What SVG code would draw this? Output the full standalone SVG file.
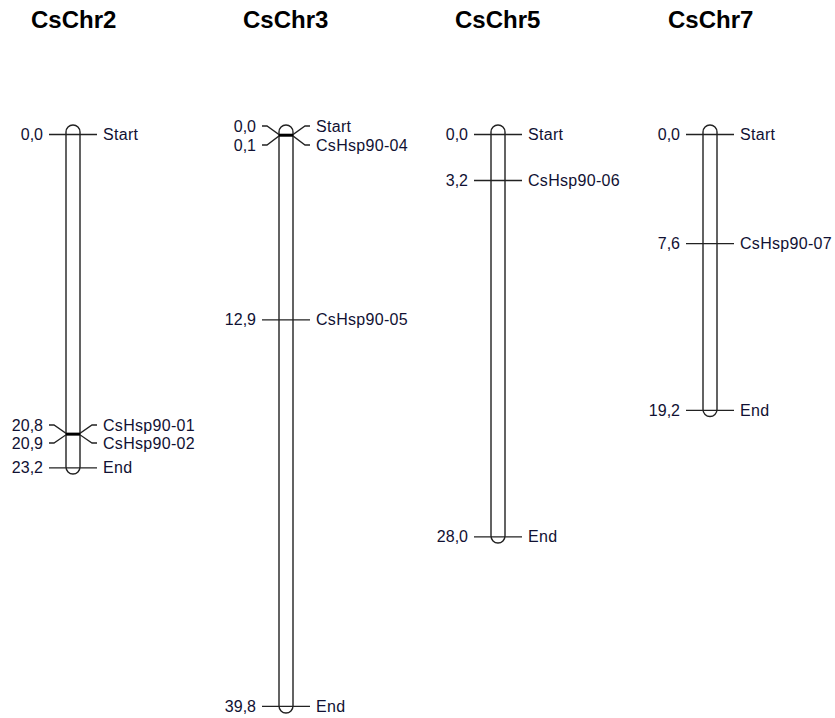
<svg xmlns="http://www.w3.org/2000/svg" width="835" height="718" viewBox="0 0 835 718">
<style>
.t{font-family:"Liberation Sans",Arial,sans-serif;font-size:24px;font-weight:bold;fill:#000}
.n{font-family:"Liberation Sans",Arial,sans-serif;font-size:16px;fill:#111133;text-anchor:end}
.l{font-family:"Liberation Sans",Arial,sans-serif;font-size:16px;fill:#111133;letter-spacing:0.3px}
.b{fill:none;stroke:#222;stroke-width:1.4}
.k{fill:none;stroke:#222;stroke-width:1.3}
.h{stroke:#000;stroke-width:2.6}
</style>
<rect width="835" height="718" fill="#fff"/>
<g id="CsChr2">
<text class="t" x="31" y="28">CsChr2</text>
<path class="b" d="M66,132 L66,467 A7,7 0 0 0 80,467 L80,132 A7,7 0 0 0 66,132 Z"/>
<line class="k" x1="49" y1="134.5" x2="97" y2="134.5"/>
<text class="n" x="43" y="140">0,0</text><text class="l" x="103" y="140">Start</text>
<polyline class="k" points="49,425 54,425 66,433.4 80,433.4 92,425 97,425"/>
<polyline class="k" points="49,443 54,443 66,434.8 80,434.8 92,443 97,443"/>
<line class="h" x1="66" y1="434.1" x2="80" y2="434.1"/>
<text class="n" x="43" y="430.5">20,8</text><text class="l" x="103" y="430.5">CsHsp90-01</text>
<text class="n" x="43" y="448.5">20,9</text><text class="l" x="103" y="448.5">CsHsp90-02</text>
<line class="k" x1="49" y1="467.9" x2="97" y2="467.9"/>
<text class="n" x="43" y="473.4">23,2</text><text class="l" x="103" y="473.4">End</text>
</g>
<g id="CsChr3">
<text class="t" x="243" y="28">CsChr3</text>
<path class="b" d="M279,132 L279,706 A7,7 0 0 0 293,706 L293,132 A7,7 0 0 0 279,132 Z"/>
<polyline class="k" points="262,126 267,126 279,134.5 293,134.5 305,126 310,126"/>
<polyline class="k" points="262,145 267,145 279,135.9 293,135.9 305,145 310,145"/>
<line class="h" x1="279" y1="135.2" x2="293" y2="135.2"/>
<text class="n" x="256" y="131.5">0,0</text><text class="l" x="316" y="131.5">Start</text>
<text class="n" x="256" y="150.5">0,1</text><text class="l" x="316" y="150.5">CsHsp90-04</text>
<line class="k" x1="262" y1="319.9" x2="310" y2="319.9"/>
<text class="n" x="256" y="325.4">12,9</text><text class="l" x="316" y="325.4">CsHsp90-05</text>
<line class="k" x1="262" y1="706.4" x2="310" y2="706.4"/>
<text class="n" x="256" y="711.9">39,8</text><text class="l" x="316" y="711.9">End</text>
</g>
<g id="CsChr5">
<text class="t" x="455" y="28">CsChr5</text>
<path class="b" d="M491,132 L491,536 A7,7 0 0 0 505,536 L505,132 A7,7 0 0 0 491,132 Z"/>
<line class="k" x1="474" y1="134.5" x2="522" y2="134.5"/>
<text class="n" x="468" y="140">0,0</text><text class="l" x="528" y="140">Start</text>
<line class="k" x1="474" y1="180.5" x2="522" y2="180.5"/>
<text class="n" x="468" y="186">3,2</text><text class="l" x="528" y="186">CsHsp90-06</text>
<line class="k" x1="474" y1="536.9" x2="522" y2="536.9"/>
<text class="n" x="468" y="542.4">28,0</text><text class="l" x="528" y="542.4">End</text>
</g>
<g id="CsChr7">
<text class="t" x="668" y="28">CsChr7</text>
<path class="b" d="M703,132 L703,409.5 A7,7 0 0 0 717,409.5 L717,132 A7,7 0 0 0 703,132 Z"/>
<line class="k" x1="686" y1="134.5" x2="734" y2="134.5"/>
<text class="n" x="680" y="140">0,0</text><text class="l" x="740" y="140">Start</text>
<line class="k" x1="686" y1="243.7" x2="734" y2="243.7"/>
<text class="n" x="680" y="249.2">7,6</text><text class="l" x="740" y="249.2">CsHsp90-07</text>
<line class="k" x1="686" y1="410.4" x2="734" y2="410.4"/>
<text class="n" x="680" y="415.9">19,2</text><text class="l" x="740" y="415.9">End</text>
</g>
</svg>
